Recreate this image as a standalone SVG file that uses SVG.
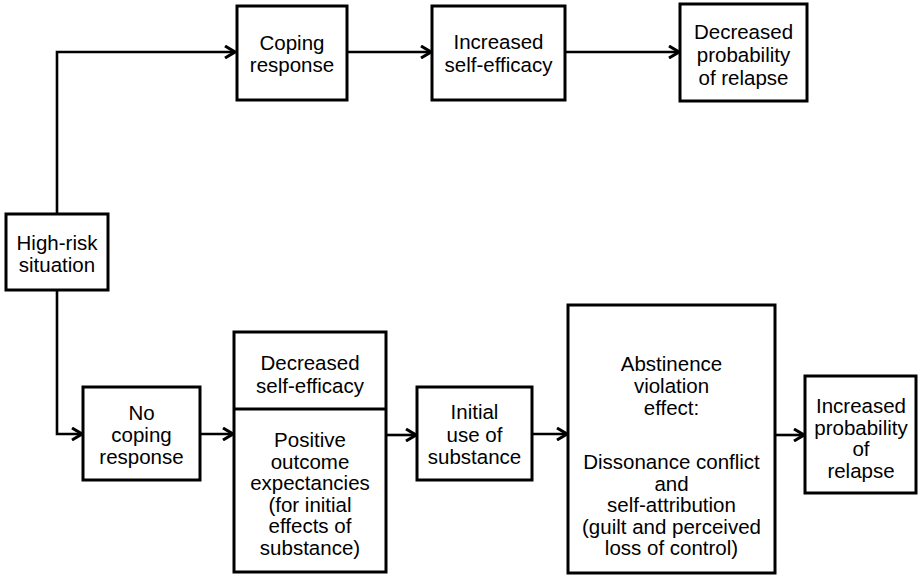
<svg xmlns="http://www.w3.org/2000/svg" width="921" height="577" viewBox="0 0 921 577">
<style>
.box{fill:#fff;stroke:#000;stroke-width:3}
.ln{fill:none;stroke:#000;stroke-width:2.6}
text{font-family:"Liberation Sans",Arial,Helvetica,sans-serif;font-size:20.5px;text-anchor:middle;fill:#000}
</style>
<defs>
<marker id="arr" markerUnits="userSpaceOnUse" viewBox="0 0 12 14" refX="11" refY="7" markerWidth="12" markerHeight="14" orient="auto">
<path d="M1,1 L11,7 L1,13" fill="none" stroke="#000" stroke-width="3"/>
</marker>
</defs>
<rect width="921" height="577" fill="#fff"/>
<g id="connectors">
<path class="ln" d="M57,214 V52 H235" marker-end="url(#arr)"/>
<path class="ln" d="M347,52 H431" marker-end="url(#arr)"/>
<path class="ln" d="M565,52 H679" marker-end="url(#arr)"/>
<path class="ln" d="M57,290 V434 H82" marker-end="url(#arr)"/>
<path class="ln" d="M200,434 H233" marker-end="url(#arr)"/>
<path class="ln" d="M386,435 H416" marker-end="url(#arr)"/>
<path class="ln" d="M532,434 H567" marker-end="url(#arr)"/>
<path class="ln" d="M775,435 H804" marker-end="url(#arr)"/>
</g>
<g id="high-risk">
<rect class="box" x="6" y="214" width="102" height="76"/>
<text x="57" y="250">High-risk</text>
<text x="57" y="272">situation</text>
</g>
<g id="coping">
<rect class="box" x="237" y="6" width="110" height="94"/>
<text x="292" y="50">Coping</text>
<text x="292" y="72">response</text>
</g>
<g id="inc-self-efficacy">
<rect class="box" x="432" y="6" width="133" height="94"/>
<text x="498.5" y="49">Increased</text>
<text x="498.5" y="72">self-efficacy</text>
</g>
<g id="dec-prob">
<rect class="box" x="680" y="4" width="127" height="97"/>
<text x="743.5" y="39">Decreased</text>
<text x="743.5" y="62">probability</text>
<text x="743.5" y="85">of relapse</text>
</g>
<g id="no-coping">
<rect class="box" x="83" y="387" width="117" height="93"/>
<text x="141.5" y="420">No</text>
<text x="141.5" y="442">coping</text>
<text x="141.5" y="464">response</text>
</g>
<g id="dec-self-efficacy">
<rect class="box" x="234" y="332" width="152" height="240"/>
<line x1="234" y1="409" x2="386" y2="409" stroke="#000" stroke-width="3"/>
<text x="310" y="370">Decreased</text>
<text x="310" y="393">self-efficacy</text>
<text x="310" y="447">Positive</text>
<text x="310" y="468.5">outcome</text>
<text x="310" y="490">expectancies</text>
<text x="310" y="511.5">(for initial</text>
<text x="310" y="533">effects of</text>
<text x="310" y="554.5">substance)</text>
</g>
<g id="initial-use">
<rect class="box" x="417" y="387" width="115" height="93"/>
<text x="474.5" y="419">Initial</text>
<text x="474.5" y="441.5">use of</text>
<text x="474.5" y="464">substance</text>
</g>
<g id="ave">
<rect class="box" x="568" y="305" width="207" height="268"/>
<text x="671.5" y="371">Abstinence</text>
<text x="671.5" y="393">violation</text>
<text x="671.5" y="415">effect:</text>
<text x="671.5" y="469">Dissonance conflict</text>
<text x="671.5" y="490.5">and</text>
<text x="671.5" y="512">self-attribution</text>
<text x="671.5" y="533.5">(guilt and perceived</text>
<text x="671.5" y="555">loss of control)</text>
</g>
<g id="inc-prob">
<rect class="box" x="805" y="376" width="111" height="117"/>
<text x="861" y="413">Increased</text>
<text x="861" y="434.5">probability</text>
<text x="861" y="456">of</text>
<text x="861" y="477.5">relapse</text>
</g>
</svg>
